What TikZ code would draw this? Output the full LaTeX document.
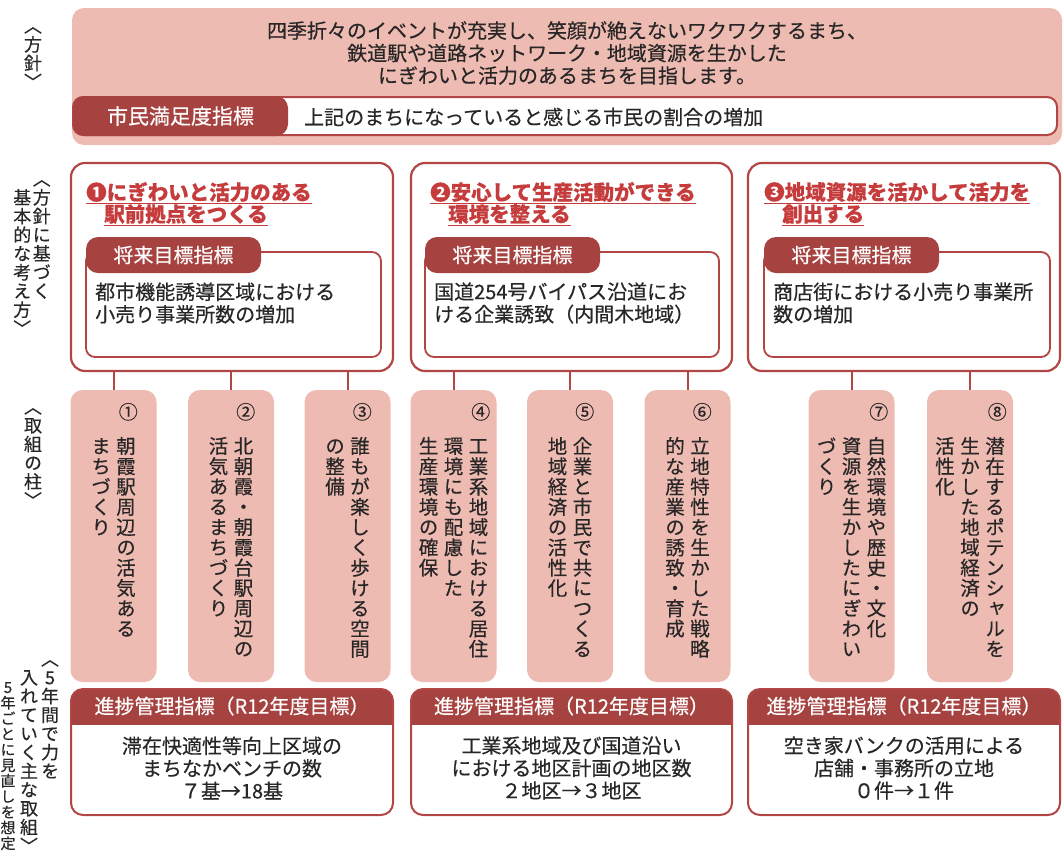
\documentclass[tikz,border=0pt]{standalone}
\usepackage{fontspec}
\setmainfont{Noto Sans CJK JP}[FakeBold=0.4]
\newfontfamily\tatefont[RawFeature=+vert, FakeBold=0.4]{Noto Sans CJK JP}

\definecolor{pinkfill}{RGB}{237,187,177}
\definecolor{darkred}{RGB}{166,66,64}
\definecolor{framered}{RGB}{178,70,68}
\definecolor{titlered}{RGB}{198,60,60}
\definecolor{inktext}{RGB}{40,38,38}

% tategaki: one glyph per cell
\def\tatestep#1{\ifx#1\relax\else\hbox to 1em{\hss#1\hss}\expandafter\tatestep\fi}
\newcommand\tatecol[1]{\vtop{\baselineskip=1.04em\lineskiplimit=-100pt\lineskip=0pt\tatestep#1\relax}}

\tikzset{
  policybox/.style={fill=pinkfill, rounded corners=12pt, inner sep=0pt},
  basisbox/.style={draw=framered, line width=2.2pt, fill=white, rounded corners=14pt, inner sep=0pt, minimum height=208pt},
  goalbox/.style={draw=framered, line width=1.8pt, fill=white, rounded corners=9pt, inner sep=0pt, minimum height=105pt},
  tabbox/.style={fill=darkred, rounded corners=12pt, text=white, inner sep=0pt, minimum height=36pt, font=\fontsize{20}{24}\selectfont},
  pillarbox/.style={fill=pinkfill, rounded corners=12pt, inner sep=0pt, minimum width=86pt, minimum height=292pt},
  pillartext/.style={anchor=north, inner sep=0pt, text=inktext, font=\tatefont\fontsize{19.5}{20}\selectfont},
  pillarnum/.style={anchor=east, inner sep=0pt, text=inktext, font=\fontsize{19}{20}\selectfont},
  sidelabel/.style={anchor=north, inner sep=0pt, text=inktext, font=\tatefont\fontsize{18}{18}\selectfont},
  bodytext/.style={inner sep=0pt, text=inktext, font=\fontsize{20}{22.5}\selectfont},
  titletext/.style={anchor=west, inner sep=0pt, text=titlered, font=\bfseries\fontsize{20.5}{22}\selectfont},
  resultbox/.style={draw=framered, line width=2pt, fill=white, rounded corners=12pt, inner sep=0pt, minimum height=126pt,
    path picture={\fill[darkred, sharp corners] (path picture bounding box.north west) rectangle ([yshift=-36pt]path picture bounding box.north east);}},
  link/.style={draw=framered, line width=2pt}
}

\begin{document}
\begin{tikzpicture}[x=1pt, y=-1pt]
\useasboundingbox (0,0) rectangle (1064,855);

% 方針
\node[policybox, minimum width=990pt, minimum height=137pt] (policy) at (567,76.5) {};
\node[bodytext, align=center] (policytxt) at (567,53) {四季折々のイベントが充実し、笑顔が絶えないワクワクするまち、\\鉄道駅や道路ネットワーク・地域資源を生かした\\にぎわいと活力のあるまちを目指します。};
\node[draw=framered, line width=2pt, fill=white, rounded corners=10pt, inner sep=0pt, minimum width=984pt, minimum height=38pt] (satbar) at (565,116) {};
\node[tabbox, minimum width=215pt, minimum height=40pt, font=\fontsize{21}{24}\selectfont] (sattab) at (180.5,116) {市民満足度指標};
\node[bodytext, anchor=west] (sattxt) at (304,117) {上記のまちになっていると感じる市民の割合の増加};

% 基本的な考え方
\node[basisbox, minimum width=322pt] (basis1) at (232,267) {};
\node[basisbox, minimum width=321pt] (basis2) at (571.5,267) {};
\node[basisbox, minimum width=312pt] (basis3) at (904,267) {};

\node[titletext] (title1a) at (86,192) {❶にぎわいと活力のある};
\node[titletext] (title1b) at (104,214) {駅前拠点をつくる};
\node[titletext] (title2a) at (430,192) {❷安心して生産活動ができる};
\node[titletext] (title2b) at (448,214) {環境を整える};
\node[titletext] (title3a) at (764,192) {❸地域資源を活かして活力を};
\node[titletext] (title3b) at (782,214) {創出する};
\foreach \t in {title1a,title1b,title2a,title2b,title3a,title3b}
  \draw[titlered, line width=1.3pt] ([yshift=-1.5pt]\t.south west) -- ([yshift=-1.5pt]\t.south east);

\node[goalbox, minimum width=295pt] (goal1) at (233.5,304.5) {};
\node[goalbox, minimum width=294pt] (goal2) at (572,304.5) {};
\node[goalbox, minimum width=286pt] (goal3) at (907,304.5) {};
\node[tabbox, minimum width=175pt] (goaltab1) at (173.5,255) {将来目標指標};
\node[tabbox, minimum width=175pt] (goaltab2) at (512.5,255) {将来目標指標};
\node[tabbox, minimum width=175pt] (goaltab3) at (851.5,255) {将来目標指標};
\node[bodytext, anchor=west, align=left] (goaltxt1) at (95,303) {都市機能誘導区域における\\小売り事業所数の増加};
\node[bodytext, anchor=west, align=left] (goaltxt2) at (434,303) {国道254号バイパス沿道にお\\ける企業誘致（内間木地域）};
\node[bodytext, anchor=west, align=left] (goaltxt3) at (773,303) {商店街における小売り事業所\\数の増加};

% 取組の柱
\node[pillarbox] (pillar1) at (113.5,536) {};
\node[pillarbox] (pillar2) at (231,536) {};
\node[pillarbox] (pillar3) at (347.5,536) {};
\node[pillarbox] (pillar4) at (453.5,536) {};
\node[pillarbox] (pillar5) at (570,536) {};
\node[pillarbox] (pillar6) at (687.5,536) {};
\node[pillarbox] (pillar7) at (851.5,536) {};
\node[pillarbox] (pillar8) at (970,536) {};

\foreach \b/\p in {basis1/pillar1,basis1/pillar2,basis1/pillar3,basis2/pillar4,basis2/pillar5,basis2/pillar6,basis3/pillar7,basis3/pillar8}
  \draw[link] (\b.south -| \p.north) -- (\p.north);

\node[pillartext] (pillartxt1) at ([yshift=-47pt]pillar1.north) {\tatecol{まちづくり}\hspace{5.5pt}\tatecol{朝霞駅周辺の活気ある}};
\node[pillartext] (pillartxt2) at ([yshift=-47pt]pillar2.north) {\tatecol{活気あるまちづくり}\hspace{5.5pt}\tatecol{北朝霞・朝霞台駅周辺の}};
\node[pillartext] (pillartxt3) at ([yshift=-47pt]pillar3.north) {\tatecol{の整備}\hspace{5.5pt}\tatecol{誰もが楽しく歩ける空間}};
\node[pillartext] (pillartxt4) at ([yshift=-47pt]pillar4.north) {\tatecol{生産環境の確保}\hspace{5.5pt}\tatecol{環境にも配慮した}\hspace{5.5pt}\tatecol{工業系地域における居住}};
\node[pillartext] (pillartxt5) at ([yshift=-47pt]pillar5.north) {\tatecol{地域経済の活性化}\hspace{5.5pt}\tatecol{企業と市民で共につくる}};
\node[pillartext] (pillartxt6) at ([yshift=-47pt]pillar6.north) {\tatecol{的な産業の誘致・育成}\hspace{5.5pt}\tatecol{立地特性を生かした戦略}};
\node[pillartext] (pillartxt7) at ([yshift=-47pt]pillar7.north) {\tatecol{づくり}\hspace{5.5pt}\tatecol{資源を生かしたにぎわい}\hspace{5.5pt}\tatecol{自然環境や歴史・文化}};
\node[pillartext] (pillartxt8) at ([yshift=-47pt]pillar8.north) {\tatecol{活性化}\hspace{5.5pt}\tatecol{生かした地域経済の}\hspace{5.5pt}\tatecol{潜在するポテンシャルを}};

\foreach \i/\n in {1/①,2/②,3/③,4/④,5/⑤,6/⑥,7/⑦,8/⑧}
  \node[pillarnum] (pillarnum\i) at ([xshift=2pt, yshift=25pt]pillartxt\i.north east) {\n};

% 進捗管理指標
\node[resultbox, minimum width=322pt] (result1) at (232,752) {};
\node[resultbox, minimum width=321pt] (result2) at (571.5,752) {};
\node[resultbox, minimum width=312pt] (result3) at (904,752) {};
\foreach \r in {result1,result2,result3}
  \node[bodytext, text=white] (\r head) at ([yshift=-18pt]\r.north) {進捗管理指標（R12年度目標）};
\node[bodytext, align=center] (resulttxt1) at (232,768) {滞在快適性等向上区域の\\まちなかベンチの数\\７基→18基};
\node[bodytext, align=center] (resulttxt2) at (571.5,768) {工業系地域及び国道沿い\\における地区計画の地区数\\２地区→３地区};
\node[bodytext, align=center] (resulttxt3) at (904,768) {空き家バンクの活用による\\店舗・事務所の立地\\０件→１件};

% 左の見出し
\node[sidelabel] (sidepolicy) at (33,27) {\tatecol{〈方針〉}};
\node[sidelabel] (sidebasis) at (32,180) {\tatecol{~基本的な考え方〉}\hspace{1.5pt}\tatecol{〈方針に基づく}};
\node[sidelabel] (sidepillar) at (33,408) {\tatecol{〈取組の柱〉}};
\node[sidelabel] (sidemain) at (39.5,660) {\tatecol{~入れていく主な取組〉}\hspace{3pt}\tatecol{〈5年間で力を}};
\node[sidelabel, font=\tatefont\fontsize{15}{15}\selectfont] (sidenote) at (8,682) {\tatecol{5年ごとに見直しを想定}};
\end{tikzpicture}
\end{document}
